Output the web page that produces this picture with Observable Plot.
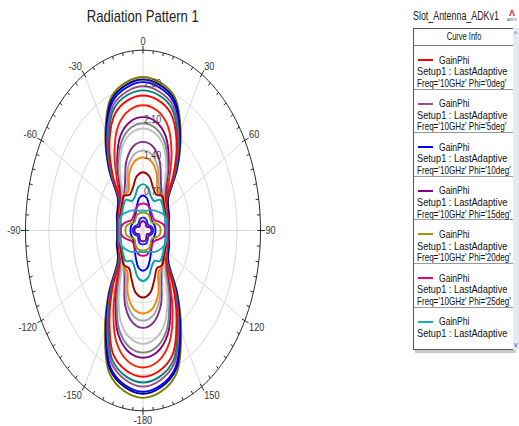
<!DOCTYPE html>
<html>
<head>
<meta charset="utf-8">
<script src="https://cdn.jsdelivr.net/npm/d3@7"></script>
<script src="https://cdn.jsdelivr.net/npm/@observablehq/plot@0.6"></script>
<style>
  html, body { margin: 0; padding: 0; background: #fff; }
  #page { position: relative; width: 519px; height: 426px; overflow: hidden;
          font-family: "Liberation Sans", Arial, sans-serif; color: #1a1a1a; }
  #chart { position: absolute; left: 0; top: 0; }
  .cond { display: inline-block; white-space: nowrap; }
  #title { position: absolute; left: 0; top: 7.6px; width: 286px; text-align: center;
           font-size: 17px; line-height: 17px; color: #222; }
  #title .cond { transform: scaleX(0.77); transform-origin: 50% 50%; }
  #project { position: absolute; left: 413px; top: 10px; font-size: 12px; line-height: 12px; color: #222; }
  #project .cond { transform: scaleX(0.74); transform-origin: 0 50%; }
  #logo { position: absolute; left: 504px; top: 3px; width: 16px; text-align: center; line-height: 1; }
  #logo .a { color: #d22; font-weight: bold; font-size: 9px; }
  #logo .n { display: block; font-size: 3px; color: #444; }
  #legend { position: absolute; left: 413px; top: 28px; width: 100px; height: 320px;
            border: 1px solid #555; border-right: none; background: #fff;
            box-shadow: 2px 3px 0 #c9c9c9; font-size: 11px; line-height: 13px; color: #111; }
  #list { height: 311px; overflow: hidden; }
  #legend .cond { transform-origin: 0 50%; }
  #legend .hdr { height: 16px; border-bottom: 1px solid #777; text-align: center; font-size: 10px; line-height: 16px; }
  #legend .hdr .cond { transform: scaleX(0.75); transform-origin: 50% 50%; }
  #legend .entry { position: relative; height: 42.6px; border-bottom: 1px solid #999; }
  #legend .swatch { position: absolute; left: 4px; top: 13px; width: 15px; height: 2px; }
  #legend .l1 { position: absolute; left: 25px; top: 7.7px; }
  #legend .l2 { position: absolute; left: 3px; top: 19.3px; }
  #legend .l3 { position: absolute; left: 3px; top: 30.9px; }
  #legend .l1 .cond { transform: scaleX(0.78); }
  #legend .l2 .cond { transform: scaleX(0.84); }
  #legend .l3 .cond { transform: scaleX(0.735); }
  #scroll { position: absolute; left: 513px; top: 28px; width: 8px; height: 322px; background: #e3eaf5; }
  #scroll .up, #scroll .dn { position: absolute; left: 1px; font-size: 7px; color: #2a4fb0; line-height: 7px; }
  #scroll .up { top: 2px; }
  #scroll .dn { bottom: 2px; }
</style>
</head>
<body>
<div id="page">
  <div id="chart"></div>
  <div id="title"><span class="cond">Radiation Pattern 1</span></div>
  <div id="project"><span class="cond">Slot_Antenna_ADKv1</span></div>
  <div id="logo"><span class="a">&#923;</span><span class="n">ANSYS</span></div>
  <div id="legend"><div id="list"></div></div>
  <div id="scroll"><span class="up">&#94;</span><span class="dn">v</span></div>
</div>
<script>
// GainPhi samples every 10 degrees of theta, from 0 (up) to 180 (down).
// The cuts are symmetric, so the negative-theta half reuses the same samples.
const thetaDeg = [0, 10, 20, 30, 40, 50, 60, 70, 80, 90, 100, 110, 120, 130, 140, 150, 160, 170, 180];

const gainOlive   = [2.98, 2.92, 2.76, 2.24, 1.60, 0.98, 0.85, 0.81, 0.77, 0.76, 0.77, 0.81, 0.85, 1.01, 1.59, 2.27, 2.94, 3.17, 3.25];
const gainNavy    = [2.93, 2.87, 2.71, 2.20, 1.57, 0.97, 0.87, 0.83, 0.78, 0.77, 0.78, 0.83, 0.87, 0.98, 1.55, 2.21, 2.87, 3.09, 3.17];
const gainBlue    = [2.88, 2.82, 2.66, 2.16, 1.54, 0.95, 0.84, 0.80, 0.75, 0.74, 0.75, 0.80, 0.84, 0.97, 1.53, 2.18, 2.83, 3.05, 3.13];
const gainMauve   = [2.80, 2.74, 2.59, 2.12, 1.50, 0.92, 0.82, 0.78, 0.74, 0.73, 0.74, 0.78, 0.82, 0.94, 1.48, 2.12, 2.74, 2.95, 3.03];
const gainTeal    = [2.72, 2.67, 2.52, 2.06, 1.46, 0.90, 0.80, 0.76, 0.73, 0.72, 0.73, 0.76, 0.80, 0.91, 1.44, 2.06, 2.67, 2.88, 2.95];
const gainRed     = [2.62, 2.57, 2.42, 2.00, 1.41, 0.88, 0.82, 0.78, 0.74, 0.73, 0.74, 0.78, 0.82, 0.88, 1.39, 2.00, 2.57, 2.77, 2.84];
const gainRed2    = [2.43, 2.37, 2.16, 1.70, 1.17, 0.85, 0.80, 0.76, 0.72, 0.71, 0.72, 0.76, 0.80, 0.85, 1.20, 1.76, 2.31, 2.58, 2.66];
const gainPurple  = [2.20, 2.15, 1.96, 1.54, 1.06, 0.84, 0.79, 0.75, 0.71, 0.70, 0.71, 0.75, 0.79, 0.84, 1.11, 1.63, 2.15, 2.40, 2.47];
const gainGray    = [2.08, 2.03, 1.85, 1.46, 1.00, 0.83, 0.78, 0.74, 0.70, 0.69, 0.70, 0.74, 0.78, 0.83, 1.07, 1.56, 2.06, 2.30, 2.37];
const gainSilver  = [1.98, 1.93, 1.76, 1.39, 0.95, 0.82, 0.77, 0.73, 0.70, 0.69, 0.70, 0.73, 0.77, 0.82, 0.99, 1.45, 1.91, 2.13, 2.20];
const gainPlum    = [1.72, 1.66, 1.44, 1.07, 0.88, 0.81, 0.76, 0.73, 0.69, 0.68, 0.69, 0.73, 0.76, 0.81, 0.88, 1.10, 1.55, 1.81, 1.89];
const gainAsh     = [1.55, 1.50, 1.30, 0.96, 0.87, 0.81, 0.75, 0.72, 0.68, 0.67, 0.68, 0.72, 0.75, 0.81, 0.87, 1.02, 1.44, 1.68, 1.75];
const gainOrange  = [1.42, 1.37, 1.19, 0.88, 0.90, 0.83, 0.78, 0.74, 0.70, 0.69, 0.70, 0.74, 0.78, 0.83, 0.90, 0.93, 1.32, 1.55, 1.61];
const gainMaroon  = [1.13, 1.07, 0.88, 0.80, 0.88, 0.81, 0.76, 0.73, 0.69, 0.68, 0.69, 0.73, 0.76, 0.81, 0.88, 0.84, 1.00, 1.23, 1.30];
const gainTeal2   = [0.90, 0.85, 0.70, 0.66, 0.78, 0.76, 0.72, 0.70, 0.68, 0.67, 0.68, 0.70, 0.72, 0.76, 0.78, 0.68, 0.75, 0.92, 0.98];
const gainBlue2   = [0.68, 0.64, 0.52, 0.42, 0.36, 0.33, 0.33, 0.35, 0.37, 0.37, 0.37, 0.35, 0.34, 0.35, 0.40, 0.48, 0.60, 0.74, 0.78];
const gainMagenta = [0.525, 0.52, 0.50, 0.46, 0.41, 0.39, 0.40, 0.50, 0.63, 0.665, 0.63, 0.50, 0.40, 0.38, 0.40, 0.44, 0.47, 0.49, 0.49];
const gainOlive2  = [0.35, 0.35, 0.35, 0.35, 0.33, 0.30, 0.31, 0.40, 0.50, 0.525, 0.50, 0.40, 0.31, 0.31, 0.35, 0.38, 0.39, 0.39, 0.39];
const gainCyan    = [0.39, 0.39, 0.41, 0.45, 0.51, 0.57, 0.66, 0.72, 0.71, 0.70, 0.71, 0.72, 0.67, 0.60, 0.54, 0.48, 0.445, 0.425, 0.42];
const gainPurple2 = [0.18, 0.18, 0.17, 0.16, 0.14, 0.13, 0.14, 0.19, 0.24, 0.25, 0.24, 0.19, 0.14, 0.14, 0.16, 0.19, 0.21, 0.21, 0.21];
const gainBlue3   = [0.25, 0.25, 0.24, 0.22, 0.20, 0.19, 0.20, 0.25, 0.29, 0.30, 0.29, 0.25, 0.20, 0.20, 0.22, 0.25, 0.27, 0.27, 0.27];

const traceGains = [gainOlive, gainNavy, gainBlue, gainMauve, gainTeal, gainRed, gainRed2, gainPurple,
                    gainGray, gainSilver, gainPlum, gainAsh, gainOrange, gainMaroon, gainTeal2, gainBlue2,
                    gainMagenta, gainOlive2, gainCyan, gainPurple2, gainBlue3];
const traceColors = ["#7a7a00", "#000080", "#0000ff", "#9b4f7d", "#008080", "#ff0000", "#ff1e00", "#800080",
                     "#808080", "#c0c0c0", "#7b2f85", "#a8a8a8", "#ff8000", "#a00000", "#00a0a8", "#0000ff",
                     "#e0007a", "#999900", "#1aa8c4", "#7a0080", "#2020ff"];

// Radial axis (gain) and angular axis (theta, degrees)
const radialTicks = [0.70, 1.40, 2.10, 2.80];
const radialMax = 3.50;
const angleTicks = [0, 30, 60, 90, 120, 150, 180, -150, -120, -90, -60, -30];
const angleTickLabels = ["0", "30", "60", "90", "120", "150", "-180", "-150", "-120", "-90", "-60", "-30"];

// Legend (the panel is scrolled so the last entry shows two lines only)
const legendTrace = "GainPhi";
const legendSetup = "Setup1 : LastAdaptive";
const legendFreq = "10GHz";
const legendPhi = ["0deg", "5deg", "10deg", "15deg", "20deg", "25deg", "30deg"];
const legendColors = ["#ff0000", "#9b4f7d", "#0000ff", "#800080", "#999900", "#e0007a", "#1aa8c4"];

// ---------------------------------------------------------------------------
const rad = (d) => d * Math.PI / 180;
const px = (t, r) => r * Math.sin(rad(t));
const py = (t, r) => r * Math.cos(rad(t));

// closed traces: theta 0..180 then back through the mirrored side
const tracePts = traceGains.flatMap((gains, k) => {
  const pts = thetaDeg.map((t, i) => ({k, t, g: gains[i]}));
  for (let i = thetaDeg.length - 2; i >= 1; i--) pts.push({k, t: -thetaDeg[i], g: gains[i]});
  return pts;
});

const sweep = d3.range(0, 361, 2);
const ringPts = radialTicks.flatMap((g) => sweep.map((t) => ({t, g})));
const rimPts = sweep.map((t) => ({t, g: radialMax}));
const minorTicks = d3.range(0, 360, 5).filter((t) => t % 30 !== 0);
const majorTicks = d3.range(0, 360, 30);

// plot frame (pixels)
const W = 519, H = 426;
const frameL = 25, frameR = 260, frameT = 49.7, frameB = 410.3;
const pxPerX = (frameR - frameL) / (2 * radialMax);
const pxPerY = (frameB - frameT) / (2 * radialMax);
const tickIn = 3.2, tickOut = 4.5, labelGap = 5;

function angleLabel(i) {
  const t = angleTicks[i];
  const s = Math.sin(rad(t)), c = Math.cos(rad(t));
  const ax = Math.abs(s) < 0.01 ? "middle" : (s > 0 ? "start" : "end");
  const ay = Math.abs(c) < 0.01 ? "middle" : (c > 0 ? "bottom" : "top");
  return Plot.text([t], {
    x: (d) => px(d, radialMax) + s * labelGap / pxPerX,
    y: (d) => py(d, radialMax) + c * labelGap / pxPerY,
    text: () => angleTickLabels[i],
    textAnchor: ax, lineAnchor: ay,
    fontSize: 11.5, fill: "#333"
  });
}

const chart = Plot.plot({
  width: W, height: H,
  marginLeft: frameL, marginRight: W - frameR, marginTop: frameT, marginBottom: H - frameB,
  x: {domain: [-radialMax, radialMax], axis: null},
  y: {domain: [-radialMax, radialMax], axis: null},
  color: {type: "identity"},
  style: {fontFamily: "'Liberation Sans', Arial, sans-serif", fontSize: "11px", background: "transparent", color: "#333"},
  marks: [
    Plot.line(ringPts, {x: (d) => px(d.t, d.g), y: (d) => py(d.t, d.g), z: "g", stroke: "#d9d9d9", strokeWidth: 1}),
    Plot.link(majorTicks, {x1: () => 0, y1: () => 0, x2: (t) => px(t, radialMax), y2: (t) => py(t, radialMax),
                           stroke: "#d9d9d9", strokeWidth: 1}),
    Plot.line(rimPts, {x: (d) => px(d.t, d.g), y: (d) => py(d.t, d.g), stroke: "#2a2a2a", strokeWidth: 1}),
    Plot.link(minorTicks, {
      x1: (t) => px(t, radialMax), y1: (t) => py(t, radialMax),
      x2: (t) => px(t, radialMax) - Math.sin(rad(t)) * tickIn / pxPerX,
      y2: (t) => py(t, radialMax) - Math.cos(rad(t)) * tickIn / pxPerY,
      stroke: "#2a2a2a", strokeWidth: 1
    }),
    Plot.link(majorTicks, {
      x1: (t) => px(t, radialMax) - Math.sin(rad(t)) * tickIn / pxPerX,
      y1: (t) => py(t, radialMax) - Math.cos(rad(t)) * tickIn / pxPerY,
      x2: (t) => px(t, radialMax) + Math.sin(rad(t)) * tickOut / pxPerX,
      y2: (t) => py(t, radialMax) + Math.cos(rad(t)) * tickOut / pxPerY,
      stroke: "#2a2a2a", strokeWidth: 1
    }),
    Plot.line(tracePts, {
      x: (d) => px(d.t, d.g), y: (d) => py(d.t, d.g), z: "k",
      stroke: (d) => traceColors[d.k], strokeWidth: 1.9, curve: "catmull-rom-closed"
    }),
    Plot.text(radialTicks, {x: () => 0, y: (g) => g, text: (g) => g.toFixed(2),
                            textAnchor: "start", dx: 1, dy: -3, fontSize: 11, fill: "#444"}),
    ...angleTicks.map((_, i) => angleLabel(i))
  ]
});

document.getElementById("chart").appendChild(chart);

// narrow the SVG labels to the condensed look of the rest of the page
chart.querySelectorAll("text").forEach((el) => {
  const w = el.getComputedTextLength();
  if (w > 0) {
    el.setAttribute("textLength", (w * 0.8).toFixed(2));
    el.setAttribute("lengthAdjust", "spacingAndGlyphs");
  }
});

// legend
const list = document.getElementById("list");
const hdr = document.createElement("div");
hdr.className = "hdr";
hdr.innerHTML = '<span class="cond">Curve Info</span>';
list.appendChild(hdr);
legendPhi.forEach((phi, i) => {
  const e = document.createElement("div");
  e.className = "entry";
  const sw = document.createElement("div");
  sw.className = "swatch";
  sw.style.background = legendColors[i];
  e.appendChild(sw);
  const lines = [legendTrace, legendSetup, `Freq='${legendFreq}' Phi='${phi}'`];
  const shown = i === legendPhi.length - 1 ? lines.slice(0, 2) : lines;
  shown.forEach((txt, j) => {
    const d = document.createElement("div");
    d.className = "l" + (j + 1);
    const s = document.createElement("span");
    s.className = "cond";
    s.textContent = txt;
    d.appendChild(s);
    e.appendChild(d);
  });
  list.appendChild(e);
});
</script>
</body>
</html>
